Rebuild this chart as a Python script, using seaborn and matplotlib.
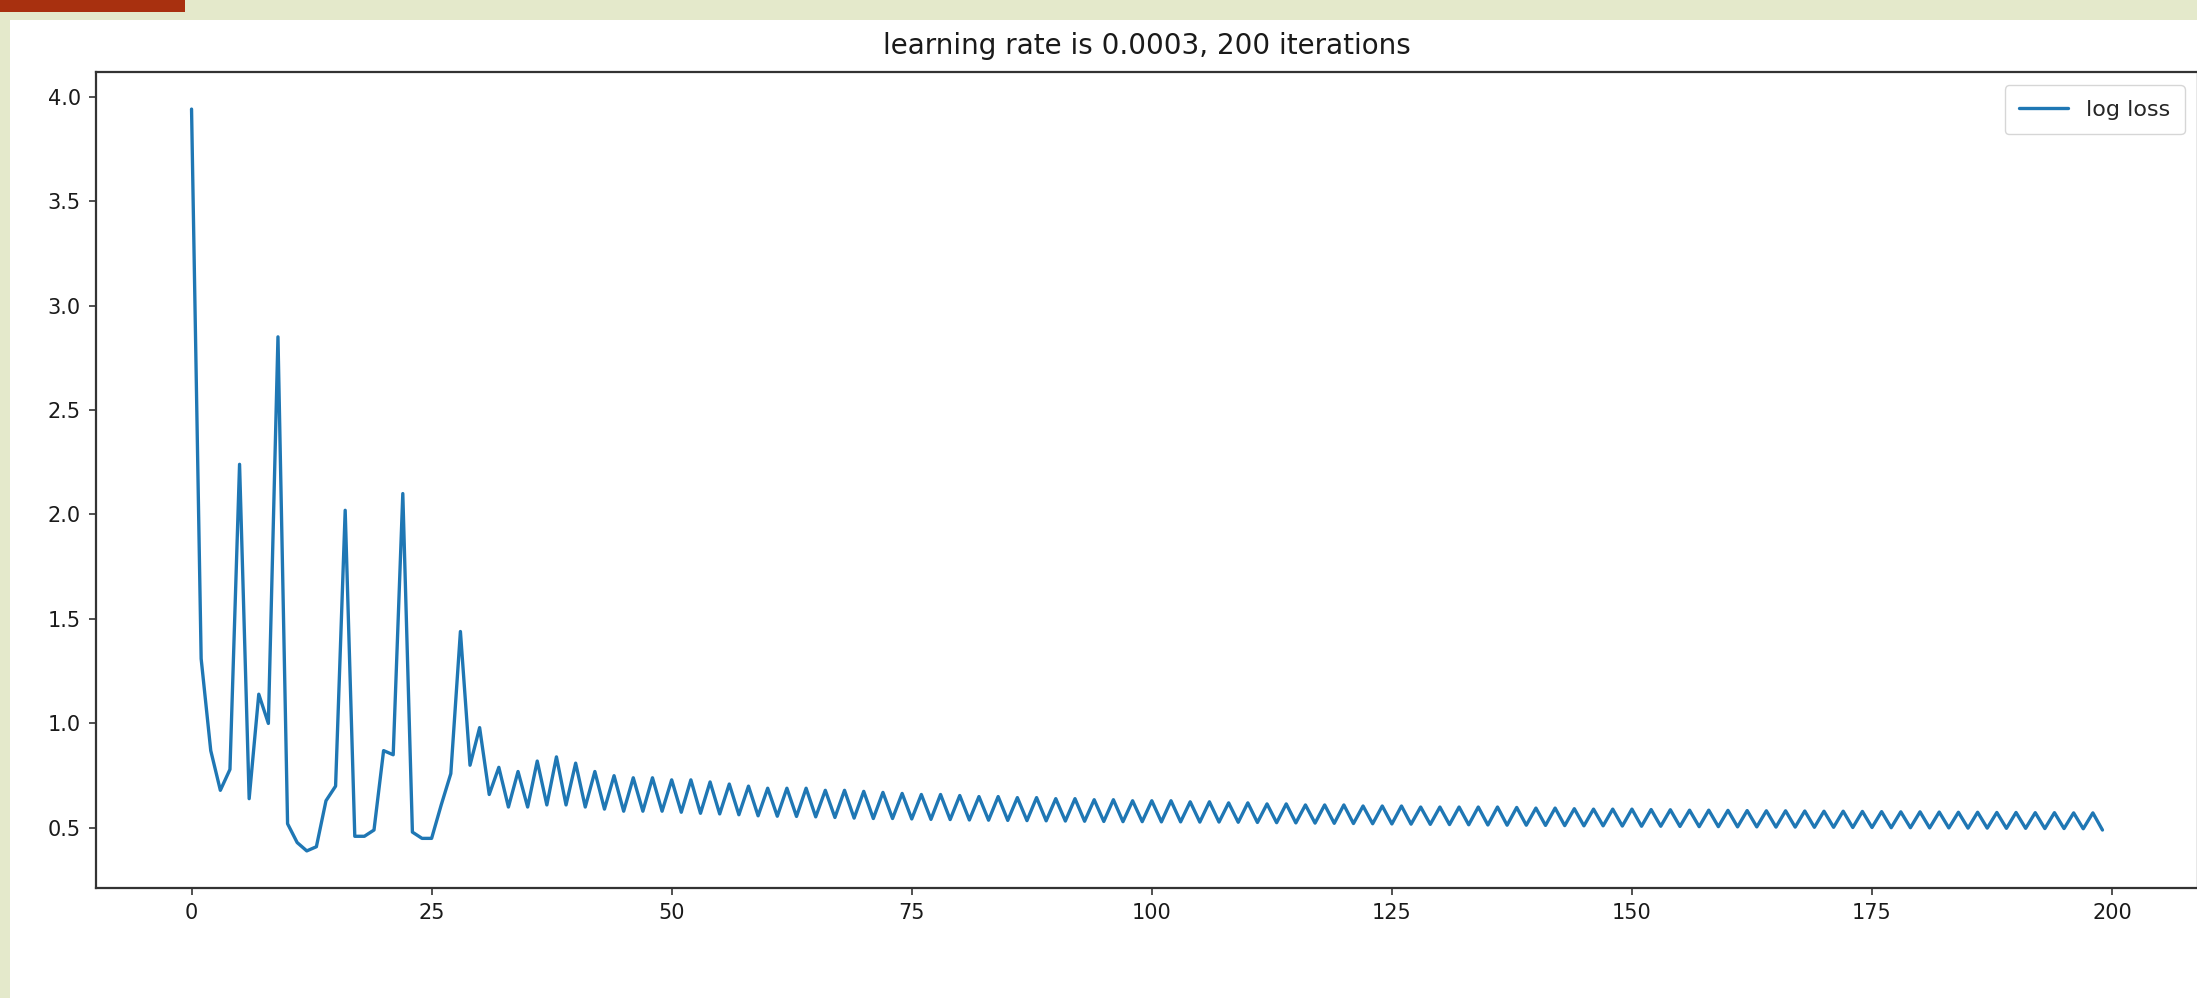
import numpy as np
import pandas as pd
import matplotlib
matplotlib.use("Agg")
import matplotlib.pyplot as plt
from matplotlib.patches import Rectangle
import seaborn as sns

title_text = "learning rate is 0.0003, 200 iterations"
series_label = "log loss"
x_ticks = [0, 25, 50, 75, 100, 125, 150, 175, 200]
y_ticks = [0.5, 1.0, 1.5, 2.0, 2.5, 3.0, 3.5, 4.0]

loss = [
    3.94, 1.31, 0.87, 0.68, 0.78, 2.24, 0.64, 1.14, 1.00, 2.85,
    0.52, 0.43, 0.39, 0.41, 0.63, 0.70, 2.02, 0.46, 0.46, 0.49,
    0.87, 0.85, 2.10, 0.48, 0.45, 0.45, 0.61, 0.76, 1.44, 0.80,
    0.98, 0.66, 0.79, 0.60, 0.77, 0.60,
    0.82, 0.61, 0.84, 0.61, 0.81, 0.60, 0.77, 0.59, 0.75, 0.58,
    0.74, 0.58, 0.74, 0.58, 0.73, 0.575, 0.73, 0.57, 0.72, 0.567,
    0.71, 0.563, 0.70, 0.558, 0.69, 0.556, 0.69, 0.555, 0.69, 0.553,
    0.68, 0.55, 0.68, 0.547, 0.675, 0.545, 0.67, 0.545, 0.665, 0.543,
    0.66, 0.541, 0.66, 0.54, 0.655, 0.538, 0.65, 0.537, 0.65, 0.536,
    0.645, 0.535, 0.645, 0.534, 0.64, 0.533, 0.64, 0.532, 0.635, 0.531,
    0.635, 0.53, 0.63, 0.53, 0.63, 0.529, 0.63, 0.529, 0.625, 0.528,
    0.625, 0.528, 0.62, 0.527, 0.62, 0.526, 0.615, 0.525, 0.615, 0.524,
    0.61, 0.523, 0.61, 0.522, 0.61, 0.521, 0.605, 0.52, 0.605, 0.519,
    0.605, 0.518, 0.60, 0.517, 0.60, 0.516, 0.60, 0.515, 0.60, 0.514,
    0.60, 0.513, 0.598, 0.513, 0.595, 0.512, 0.595, 0.511, 0.592, 0.51,
    0.59, 0.51, 0.59, 0.509, 0.59, 0.508, 0.588, 0.508, 0.587, 0.507,
    0.585, 0.506, 0.585, 0.506, 0.584, 0.505, 0.583, 0.505, 0.582, 0.504,
    0.582, 0.504, 0.581, 0.503, 0.58, 0.503, 0.58, 0.502, 0.579, 0.502,
    0.578, 0.501, 0.577, 0.501, 0.577, 0.50, 0.576, 0.50, 0.575, 0.499,
    0.575, 0.499, 0.574, 0.498, 0.574, 0.498, 0.573, 0.497, 0.573, 0.497,
    0.572, 0.496, 0.572, 0.49,
]
iterations = list(range(len(loss)))

df = pd.DataFrame({"iteration": iterations, "loss": loss})

sns.set_theme(style="ticks")
plt.rcParams["font.family"] = ["DejaVu Sans"]

W, H = 2197, 998
fig = plt.figure(figsize=(W / 100, H / 100), dpi=100)
fig.patch.set_facecolor("#e4e9cb")
# slide-like frame: white content area, red bar at top-left
fig.add_artist(Rectangle((10 / W, 0), 1, 1 - 20 / H, transform=fig.transFigure,
                         facecolor="white", edgecolor="none", zorder=0))
fig.add_artist(Rectangle((0, 1 - 12 / H), 185 / W, 12 / H, transform=fig.transFigure,
                         facecolor="#a8300f", edgecolor="none", zorder=0))

ax = fig.add_axes([96 / W, 1 - 888 / H, (2198 - 96) / W, (888 - 72) / H])
ax.set_facecolor("white")

sns.lineplot(data=df, x="iteration", y="loss", ax=ax, color="#1f77b4",
             linewidth=2.4, label=series_label)

ax.set_xticks(x_ticks)
ax.set_yticks(y_ticks)
ax.set_xlim(-9.95, 208.95)
lo, hi = min(loss), max(loss)
pad = (hi - lo) * 0.05
ax.set_ylim(lo - pad, hi + pad)
ax.set_xlabel("")
ax.set_ylabel("")
ax.set_title(title_text, fontsize=20, pad=13, color="#1a1a1a")

for s in ax.spines.values():
    s.set_visible(True)
    s.set_color("#333333")
    s.set_linewidth(1.6)
ax.tick_params(axis="both", labelsize=15, length=5, width=1.2, colors="#333333",
               labelcolor="#1a1a1a", pad=6)

leg = ax.legend(loc="upper right", fontsize=16, frameon=True, handlelength=2.2,
                borderpad=0.65, borderaxespad=0.6)
leg.get_frame().set_edgecolor("#cccccc")
leg.get_frame().set_linewidth(1.0)

fig.savefig("out.png", dpi=100, facecolor=fig.get_facecolor())
